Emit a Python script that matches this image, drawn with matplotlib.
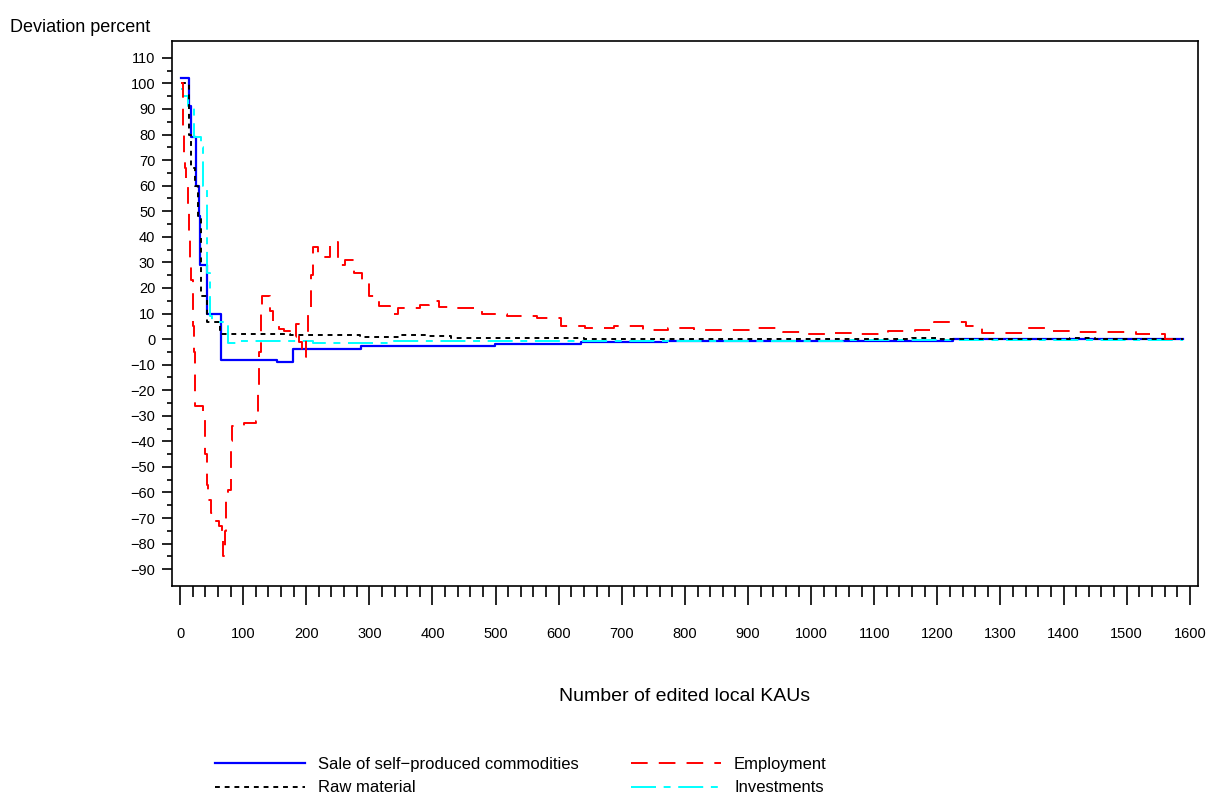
import matplotlib
matplotlib.use("Agg")
import matplotlib.pyplot as plt
import numpy as np

plt.rcParams['font.family'] = ['Liberation Sans', 'DejaVu Sans']
plt.rcParams['lines.scale_dashes'] = False

# step series (x = number of edited local KAUs, y = deviation %)
sale_x = [1, 14, 17, 25, 30, 32, 43, 65, 154, 179, 228, 287, 499, 635, 772, 1225, 1590]
sale_y = [102, 91, 79, 60, 48, 29, 10, -8, -9, -4, -3.7, -2.9, -2.1, -1.3, -0.9, 0, 0]

raw_x = [1, 14, 18, 24, 28, 33, 42, 63, 175, 285, 350, 395, 430, 640, 1160, 1200, 1410, 1450, 1590]
raw_y = [100, 80, 67, 60, 47, 17, 6.5, 2, 1.4, 1, 1.7, 1.1, 0.6, 0, 0.4, 0, 0.4, 0, 0]

emp_x = [2, 4, 5, 7, 8, 10, 12, 14, 16, 18, 20, 21, 22, 23, 24, 37, 39, 40, 42, 45,
         49, 55, 62, 66, 68, 71, 73, 76, 80, 82, 101, 120, 123, 125, 128, 130, 142, 147, 157, 165,
         175, 183, 188, 193, 197, 200, 203, 207, 211, 218, 228, 238, 243, 251, 261, 275, 288, 300, 316, 333,
         346, 380, 394, 410, 434, 478, 518, 566, 603, 642, 688, 733, 773, 815, 863, 911, 955, 987, 1027, 1078,
         1122, 1165, 1194, 1245, 1270, 1340, 1377, 1420, 1515, 1560, 1590]
emp_y = [100, 90, 80, 70, 67, 60, 50, 40, 30, 23, 15, 5, -5, -15, -26, -30, -40, -45, -57, -63,
         -68, -71, -73, -78, -85, -75, -60, -59, -40, -34, -33, -32, -20, -5, 10, 17, 11, 7, 4, 3,
         1, 6, -1, -4, -7, 2, 12, 25, 36, 32, 32, 37, 38, 29, 31, 26, 22, 17, 13, 10,
         12.3, 13.5, 14.7, 12.7, 12, 10, 9.2, 8.4, 5.3, 4.5, 5.3, 3.7, 4.5, 3.7, 3.4, 4.5, 2.6, 1.8, 2.2, 1.8,
         3, 3.7, 6.5, 5.3, 2.2, 4.5, 3, 2.6, 1.8, 0.2, 0]

inv_x = [1, 5, 13, 22, 33, 36, 43, 47, 50, 76, 95, 211, 222, 330, 700, 1050, 1590]
inv_y = [98, 95, 91, 79, 75, 60, 26, 9, 6.5, -1.5, -0.8, -1.7, -1.4, -0.8, -0.6, -0.3, -0.3]

fig = plt.figure(figsize=(12.06, 7.95), dpi=100)
ax = fig.add_axes([172 / 1206, 209 / 795, 1026 / 1206, 545 / 795])

l1, = ax.step(sale_x, sale_y, where='post', color='#0000ff', lw=1.6,
              label='Sale of self\u2212produced commodities')
l4, = ax.step(inv_x, inv_y, where='post', color='#00ffff', lw=1.4,
              dashes=(18, 5.5, 5, 5.5), label='Investments')
l2, = ax.step(raw_x, raw_y, where='post', color='black', lw=1.4,
              dashes=(3.5, 3.5), label='Raw material')
l3, = ax.step(emp_x, emp_y, where='post', color='#ff0000', lw=1.4,
              dashes=(12, 8), label='Employment')

ax.set_xlim(-12.7, 1613)
ax.set_ylim(-96.6, 116.6)
ax.set_xticks(np.arange(0, 1601, 100))
ax.set_xticks(np.arange(0, 1601, 20), minor=True)
ax.set_yticks(np.arange(-90, 111, 10))
ax.set_yticks(np.arange(-85, 106, 10), minor=True)
ax.tick_params(axis='x', which='major', direction='out', length=13.7, width=1.2,
               labelsize=10.5, pad=16)
ax.tick_params(axis='x', which='minor', direction='out', length=8, width=1.2)
ax.tick_params(axis='y', which='major', direction='out', length=7, width=1.2,
               labelsize=10.5, pad=5)
ax.tick_params(axis='y', which='minor', direction='out', length=3.6, width=1.2)
for s in ax.spines.values():
    s.set_linewidth(1.2)

ax.set_xlabel('Number of edited local KAUs', fontsize=14, labelpad=34)
fig.text(10 / 1206, 1 - 28 / 795, 'Deviation percent', fontsize=13, va='center', ha='left')

fig.legend([l1, l2, l3, l4],
           ['Sale of self\u2212produced commodities', 'Raw material', 'Employment', 'Investments'],
           ncol=2, loc='upper left', bbox_to_anchor=(215 / 1206, 1 - 757 / 795),
           frameon=False, fontsize=12, handlelength=5.4, handletextpad=0.8,
           columnspacing=3.1, labelspacing=0.5, borderpad=0, borderaxespad=0)

fig.savefig('out.png', dpi=100)
